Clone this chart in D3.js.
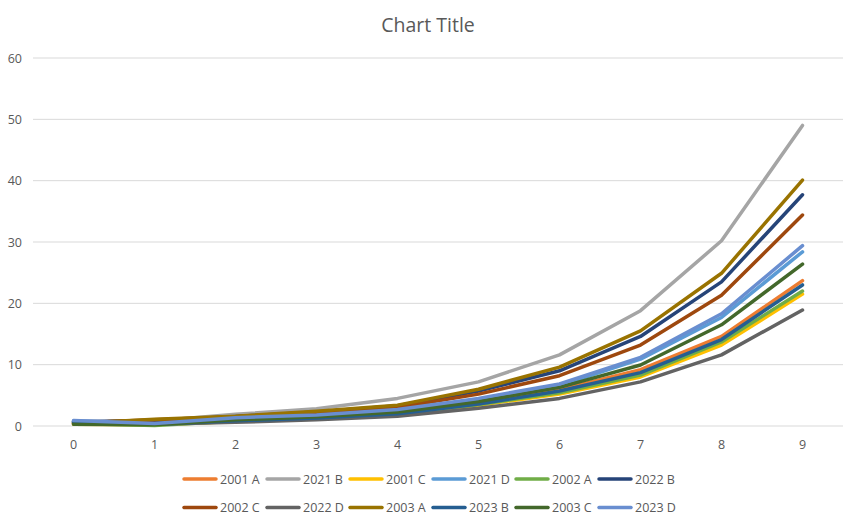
<!DOCTYPE html>
<html>
<head>
<meta charset="utf-8">
<script src="https://cdn.jsdelivr.net/npm/d3@7"></script>
<style>
  body { margin: 0; background: #fff; }
  text { font-family: "Open Sans", "Noto Sans", sans-serif; fill: #595959; }
</style>
</head>
<body>
<div id="chart"></div>
<script>
// categories on the x axis
var categories = [0, 1, 2, 3, 4, 5, 6, 7, 8, 9];
var yTicks = [0, 10, 20, 30, 40, 50, 60];

// series names, in drawing / legend order
var seriesNames = ["2001 A", "2021 B", "2001 C", "2021 D", "2002 A", "2022 B",
                   "2002 C", "2022 D", "2003 A", "2023 B", "2003 C", "2023 D"];

// values
var s2001A = [0.5, 0.4, 0.9, 1.35, 2.1, 3.7, 5.9, 9.2, 14.6, 23.7];
var s2021B = [0.6, 0.8, 1.9, 2.8, 4.5, 7.2, 11.6, 18.8, 30.2, 49.0];
var s2001C = [0.3, 0.2, 0.75, 1.15, 1.9, 3.4, 5.2, 8.0, 13.2, 21.5];
var s2021D = [0.8, 0.4, 1.3, 1.7, 2.6, 4.3, 6.6, 10.9, 17.7, 28.4];
var s2002A = [0.4, 0.1, 0.8, 1.2, 1.95, 3.5, 5.4, 8.3, 13.7, 22.0];
var s2022B = [0.7, 0.9, 1.55, 2.3, 3.3, 5.7, 9.0, 14.6, 23.5, 37.7];
var s2002C = [0.5, 1.0, 1.5, 2.1, 3.0, 5.2, 8.2, 13.2, 21.3, 34.4];
var s2022D = [0.6, 0.3, 0.6, 1.0, 1.6, 2.9, 4.5, 7.2, 11.6, 18.9];
var s2003A = [0.4, 1.1, 1.6, 2.4, 3.4, 6.0, 9.6, 15.5, 24.9, 40.1];
var s2023B = [0.7, 0.3, 0.85, 1.3, 2.0, 3.6, 5.7, 8.7, 14.1, 23.0];
var s2003C = [0.3, 0.2, 1.0, 1.5, 2.3, 4.0, 6.3, 9.95, 16.5, 26.4];
var s2023D = [0.9, 0.4, 1.35, 1.8, 2.7, 4.5, 6.85, 11.2, 18.3, 29.4];

var seriesValues = [s2001A, s2021B, s2001C, s2021D, s2002A, s2022B,
                    s2002C, s2022D, s2003A, s2023B, s2003C, s2023D];

var colors = ["#ED7D31", "#A5A5A5", "#FFC000", "#5B9BD5", "#70AD47", "#264478",
              "#9E480E", "#636363", "#997300", "#255E91", "#43682B", "#698ED0"];

var width = 855, height = 524;
var plotLeft = 33, plotRight = 843, plotTop = 58, plotBottom = 426;

var svg = d3.select("#chart").append("svg")
    .attr("width", width)
    .attr("height", height);

// title
svg.append("text")
    .attr("x", 428)
    .attr("y", 32)
    .attr("text-anchor", "middle")
    .style("font-size", "19.5px")
    .text("Chart Title");

var x = d3.scaleBand().domain(categories).range([plotLeft, plotRight]);
var y = d3.scaleLinear().domain([0, 60]).range([plotBottom, plotTop]);

// gridlines
svg.append("g").selectAll("line")
    .data(yTicks)
    .enter().append("line")
    .attr("x1", plotLeft).attr("x2", plotRight)
    .attr("y1", function(d) { return y(d); })
    .attr("y2", function(d) { return y(d); })
    .attr("stroke", "#D9D9D9")
    .attr("stroke-width", 1);

// y axis labels
var yAxis = d3.axisLeft(y).tickValues(yTicks).tickSize(0).tickPadding(0);
var gy = svg.append("g").attr("transform", "translate(22,0)").call(yAxis);
gy.select(".domain").remove();
gy.selectAll("text").style("font-size", "12.5px").attr("fill", "#595959");

// x axis labels
var xAxis = d3.axisBottom(x).tickSize(0).tickPadding(0);
var gx = svg.append("g").attr("transform", "translate(0," + (plotBottom + 14) + ")").call(xAxis);
gx.select(".domain").remove();
gx.selectAll("text").style("font-size", "12.5px").attr("fill", "#595959");

// lines
var line = d3.line()
    .x(function(d, i) { return x(categories[i]) + x.bandwidth() / 2; })
    .y(function(d) { return y(d); });

svg.append("g").selectAll("path")
    .data(seriesValues)
    .enter().append("path")
    .attr("d", line)
    .attr("fill", "none")
    .attr("stroke", function(d, i) { return colors[i]; })
    .attr("stroke-width", 3.5)
    .attr("stroke-linejoin", "round")
    .attr("stroke-linecap", "round");

// legend: two rows of six
var legend = svg.append("g");
var item = legend.selectAll("g")
    .data(seriesNames)
    .enter().append("g")
    .attr("transform", function(d, i) {
        var col = i % 6, row = Math.floor(i / 6);
        return "translate(" + (183 + col * 83) + "," + (479 + row * 28.5) + ")";
    });
item.append("line")
    .attr("x1", 1).attr("x2", 33)
    .attr("y1", 0).attr("y2", 0)
    .attr("stroke", function(d, i) { return colors[i]; })
    .attr("stroke-width", 3.5)
    .attr("stroke-linecap", "round");
item.append("text")
    .attr("x", 37)
    .attr("y", 4.5)
    .style("font-size", "12.5px")
    .text(function(d) { return d; });
</script>
</body>
</html>
